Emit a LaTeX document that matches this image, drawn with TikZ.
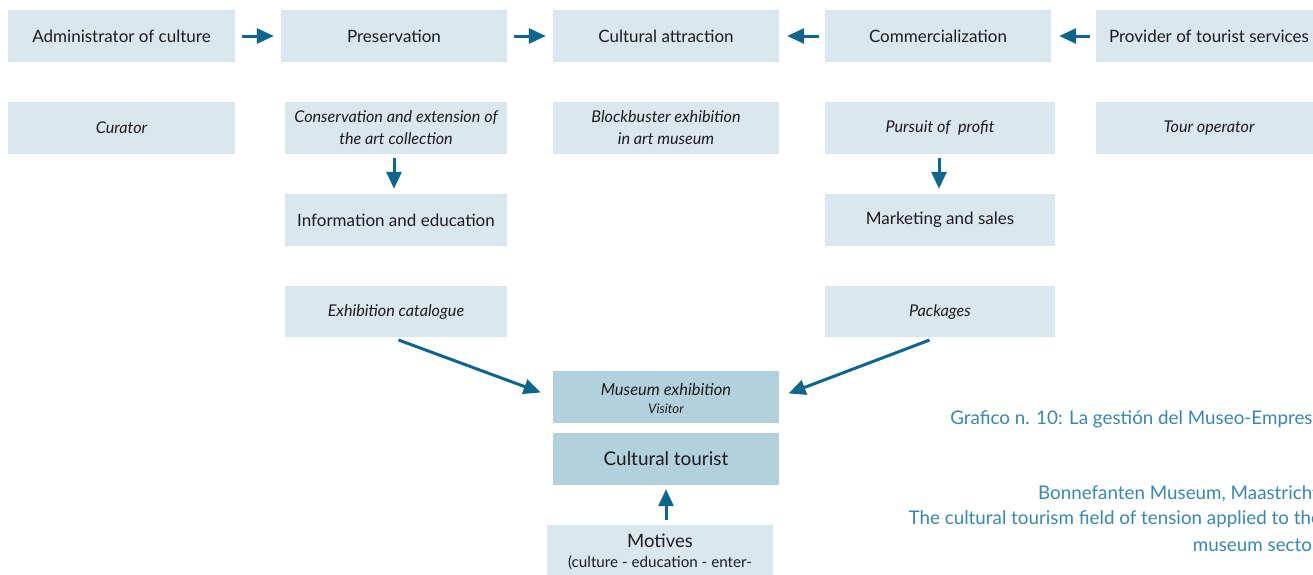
\documentclass[tikz,border=0pt]{standalone}
\usepackage{fontspec}
\setmainfont{Lato}
\usetikzlibrary{arrows.meta}
\definecolor{boxlight}{RGB}{218,231,238}
\definecolor{boxdark}{RGB}{179,208,221}
\definecolor{arrowblue}{RGB}{16,101,141}
\definecolor{captionblue}{RGB}{58,134,174}
\definecolor{inktext}{RGB}{28,28,28}
\tikzset{
  box/.style={fill=boxlight, draw=none, inner sep=0pt, minimum height=52pt,
    align=center, text=inktext, font=\fontsize{17}{21}\selectfont},
  ibox/.style={box, font=\fontsize{16.2}{22}\selectfont\itshape},
  darkbox/.style={box, fill=boxdark},
  label/.style={inner sep=0pt, text=inktext},
  flow/.style={draw=arrowblue, line width=3pt,
    -{Triangle[length=17pt,width=15pt]}},
  caption/.style={anchor=east, inner sep=0pt, text=captionblue,
    font=\fontsize{18.8}{22}\selectfont}
}
\begin{document}
\begin{tikzpicture}[x=1pt,y=-1pt]
\useasboundingbox (0,0) rectangle (1313,574);

% top row: actors and their roles
\node[box, minimum width=227pt] (admin)  at (121.5,36) {Administrator of culture};
\node[box, minimum width=226pt] (pres)   at (394,36)   {Preservation};
\node[box, minimum width=226pt] (attr)   at (666,36)   {Cultural attraction};
\node[box, minimum width=226pt] (comm)   at (938,36)   {Commercialization};
\node[box, minimum width=226pt] (prov)   at (1209,36)  {Provider of tourist services};

% second row: concrete examples
\node[ibox, minimum width=227pt] (cur)   at (121.5,128) {Curator};
\node[ibox, minimum width=222pt] (cons)  at (396,128)   {Conservation and extension of\\the art collection};
\node[ibox, minimum width=226pt] (block) at (666,128)   {Blockbuster exhibition\\in art museum};
\node[ibox, minimum width=230pt] (prof)  at (940,128)   {Pursuit of\ \ profit};
\node[ibox, minimum width=226pt] (tour)  at (1209,128)  {Tour operator};

% activities and products
\node[box,  minimum width=222pt] (info) at (396,220)   {Information and education};
\node[box,  minimum width=230pt] (mark) at (940,220)   {Marketing and sales};
\node[ibox, minimum width=222pt, minimum height=51pt] (cat)  at (396,311.5) {Exhibition catalogue};
\node[ibox, minimum width=230pt, minimum height=51pt] (pack) at (940,311.5) {Packages};

% centre: exhibition, tourist and motives
\node[darkbox, minimum width=226pt] (mus) at (666,397) {};
\node[label, font=\fontsize{16.5}{20}\selectfont\itshape] (mustext) at (666,389) {Museum exhibition};
\node[label, font=\fontsize{13.2}{16}\selectfont\itshape] (vistext) at (666,409) {Visitor};
\node[darkbox, minimum width=226pt, font=\fontsize{18.9}{22}\selectfont] (tourist) at (666,459) {Cultural tourist};
\node[box, minimum width=226pt, minimum height=75pt, anchor=north] (mot) at (660,525) {};
\node[label, font=\fontsize{18.5}{22}\selectfont] (mottext) at (660,541) {Motives};
\node[label, font=\fontsize{15.2}{20}\selectfont] (motlist) at (660,563) {(culture - education - enter-};

% connectors
\draw[flow, shorten <=7pt, shorten >=7pt] (admin.east) -- (pres.west);
\draw[flow, shorten <=7pt, shorten >=7pt] (pres.east) -- (attr.west);
\draw[flow, shorten <=6pt, shorten >=8pt] (comm.west) -- (attr.east);
\draw[flow, shorten <=6pt, shorten >=8pt] (prov.west) -- (comm.east);
\draw[flow, shorten <=4pt, shorten >=5pt] ([xshift=-2pt]cons.south) -- ([xshift=-2pt]info.north);
\draw[flow, shorten <=4pt, shorten >=5pt] ([xshift=-1pt]prof.south) -- ([xshift=-1pt]mark.north);
\draw[flow, shorten <=8pt, shorten >=13pt] ([xshift=-5pt]cat.south) -- (mus.west);
\draw[flow, shorten <=8pt, shorten >=10pt] ([xshift=-3pt]pack.south) -- (mus.east);
\draw[flow, shorten <=5pt, shorten >=4pt] (mot.north -| tourist.south) -- (tourist.south);

% caption
\node[caption] (title) at (1322,419) {Grafico n. 10: La gestión del Museo-Empresa};
\node[caption] (src1)  at (1319,494) {Bonnefanten Museum, Maastricht};
\node[caption] (src2)  at (1321,519) {The cultural tourism field of tension applied to the};
\node[caption] (src3)  at (1319,545) {museum sector};
\end{tikzpicture}
\end{document}
